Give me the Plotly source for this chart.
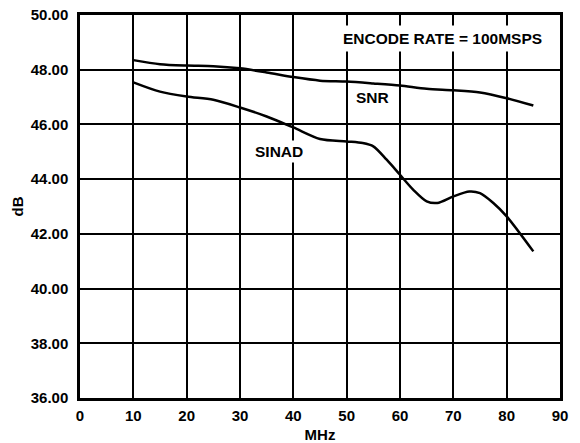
import plotly.graph_objects as go

freq_snr = [10, 15, 20, 25, 30, 35, 40, 45, 50, 55, 60, 65, 70, 75, 80, 85]
snr = [48.35, 48.2, 48.15, 48.13, 48.05, 47.9, 47.73, 47.6, 47.57, 47.5, 47.42, 47.3, 47.25, 47.17, 46.96, 46.69]

freq_sinad = [10, 15, 20, 25, 30, 35, 40, 45, 50, 53, 55, 57.5, 60, 62.5, 65, 67, 70, 73, 75, 77.5, 80, 85]
sinad = [47.54, 47.2, 47.02, 46.9, 46.62, 46.29, 45.89, 45.47, 45.38, 45.32, 45.2, 44.71, 44.16, 43.61, 43.19, 43.13, 43.37, 43.55, 43.49, 43.13, 42.64, 41.36]

x_ticks = [0, 10, 20, 30, 40, 50, 60, 70, 80, 90]
y_ticks = [36, 38, 40, 42, 44, 46, 48, 50]
y_tick_labels = ["36.00", "38.00", "40.00", "42.00", "44.00", "46.00", "48.00", "50.00"]

font_family = "Liberation Sans, Arial, sans-serif"

fig = go.Figure()
fig.add_trace(go.Scatter(x=freq_snr, y=snr, mode="lines", name="SNR",
                         line=dict(color="black", width=2.5, shape="spline", smoothing=0.8)))
fig.add_trace(go.Scatter(x=freq_sinad, y=sinad, mode="lines", name="SINAD",
                         line=dict(color="black", width=2.5, shape="spline", smoothing=0.8)))

fig.add_annotation(x=67.9, y=49.15, xref="x", yref="y", text="<b>ENCODE RATE = 100MSPS</b>",
                   showarrow=False, bgcolor="white", borderpad=4,
                   font=dict(family=font_family, size=15.5, color="black"))
fig.add_annotation(x=54.8, y=46.97, xref="x", yref="y", text="<b>SNR</b>",
                   showarrow=False, font=dict(family=font_family, size=15.5, color="black"))
fig.add_annotation(x=37.4, y=45.0, xref="x", yref="y", text="<b>SINAD</b>",
                   showarrow=False, bgcolor="white", borderpad=2,
                   font=dict(family=font_family, size=15.5, color="black"))

fig.update_layout(
    width=580, height=443,
    margin=dict(l=80, r=20, t=15, b=45),
    paper_bgcolor="white", plot_bgcolor="white",
    showlegend=False,
    font=dict(family=font_family, size=15, color="black"),
)
fig.update_xaxes(range=[0, 90], tickvals=x_ticks, ticktext=[f"<b>{v}</b>" for v in x_ticks],
                 showgrid=True, gridcolor="black", gridwidth=1.5, automargin=False,
                 showline=True, linecolor="black", linewidth=2.5, mirror=True,
                 ticks="", ticklabelstandoff=2, zeroline=False,
                 title=dict(text="<b>MHz</b>", standoff=10, font=dict(size=15)))
fig.update_yaxes(range=[36, 50], tickvals=y_ticks, ticktext=[f"<b>{t}</b>" for t in y_tick_labels],
                 showgrid=True, gridcolor="black", gridwidth=1.5, automargin=False,
                 showline=True, linecolor="black", linewidth=2.5, mirror=True,
                 ticks="", ticklabelstandoff=6, zeroline=False,
                 title=dict(text="<b>dB</b>", standoff=4, font=dict(size=15)))

# Remove the browser's default body margin so the figure sits at the window's corner.
fig.write_html("out.html", config={"displayModeBar": False},
               post_script="document.body.style.margin='0';")
